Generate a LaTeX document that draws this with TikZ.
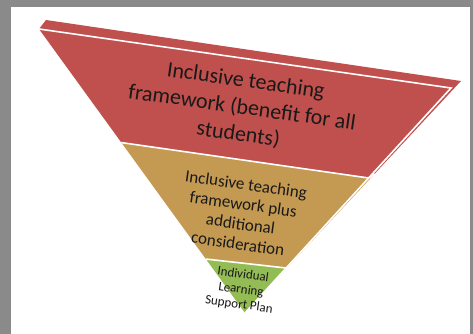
\documentclass[tikz,border=0pt]{standalone}
\usepackage{fontspec}
\setmainfont{Carlito}
\usetikzlibrary{calc}
\definecolor{bordergray}{HTML}{8A8A8A}
\definecolor{layerred}{HTML}{C0504D}
\definecolor{layertan}{HTML}{C49A52}
\definecolor{layergreen}{HTML}{94BC55}
\begin{document}
\begin{tikzpicture}[x=1pt,y=-1pt,
  gap/.style={draw=white,line width=1.6pt},
  layertext/.style={align=center,rotate=-8,text=black!90,inner sep=0pt}]
\useasboundingbox (0,0) rectangle (473,334);
\fill[bordergray] (0,0) rectangle (473,334);
\fill[white] (11,7) rectangle (470,334);
\coordinate (A) at (39,29);
\coordinate (D) at (46,20);
\coordinate (C) at (461,81);
\coordinate (B) at (451,88);
\coordinate (T) at (245,313);
\coordinate (P1) at ($(A)!0.4!(T)$);
\coordinate (Q1) at ($(B)!0.4!(T)$);
\coordinate (S1) at ($(C)!0.4!(T)$);
\coordinate (P2) at ($(A)!0.81!(T)$);
\coordinate (Q2) at ($(B)!0.8!(T)$);
\coordinate (S2) at ($(C)!0.8!(T)$);
\fill[layerred] (A)--(D)--(C)--(S1)--(Q1)--(P1)--cycle;
\fill[layertan] (P1)--(Q1)--(S1)--(S2)--(Q2)--(P2)--cycle;
\fill[layergreen] (P2)--(Q2)--(S2)--(T)--cycle;
\draw[gap] (A)--(B)--(T);
\draw[gap] (P1)--(Q1)--(S1);
\draw[gap] (P2)--(Q2)--(S2);
\node[layertext,font=\fontsize{22}{27}\selectfont] (redtext) at (242,108)
  {Inclusive teaching\\framework (benefit for all\\students)};
\node[layertext,font=\fontsize{17}{20}\selectfont] (tantext) at (242,214)
  {Inclusive teaching\\framework plus\\additional\\consideration};
\node[layertext,font=\fontsize{13}{15}\selectfont] (greentext) at (241,290)
  {Individual\\Learning\\Support Plan};
\end{tikzpicture}
\end{document}
